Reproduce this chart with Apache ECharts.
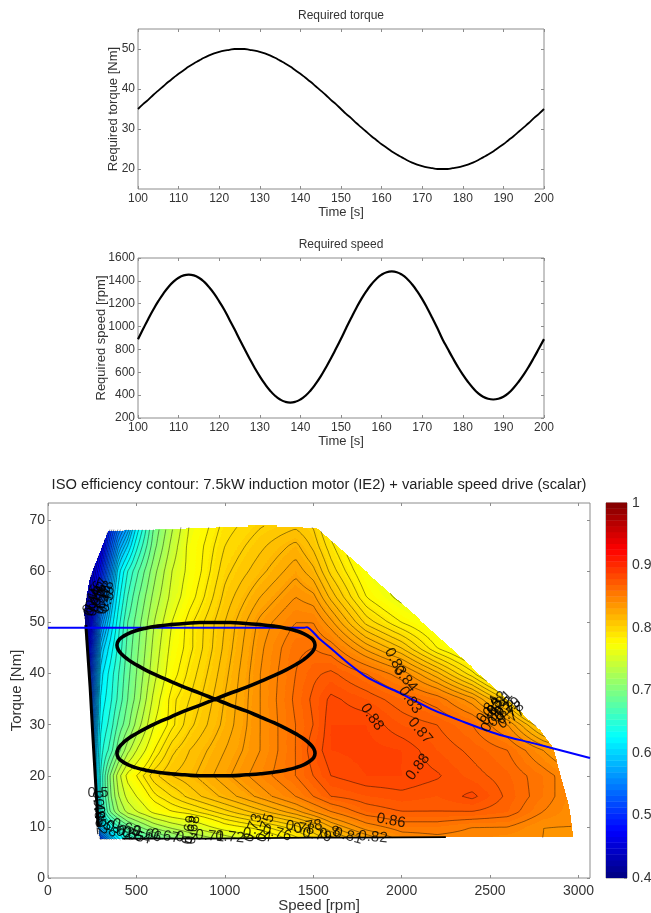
<!DOCTYPE html>
<html><head><meta charset="utf-8">
<style>html,body{margin:0;padding:0;background:#fff}#c{width:651px;height:913px}</style>
<script src="https://cdn.jsdelivr.net/npm/echarts@6/dist/echarts.min.js"></script>
</head><body><div id="c"></div>
<script>
var timeValues=[100,101.25,102.5,103.75,105,106.25,107.5,108.75,110,111.25,112.5,113.75,115,116.25,117.5,118.75,120,121.25,122.5,123.75,125,126.25,127.5,128.75,130,131.25,132.5,133.75,135,136.25,137.5,138.75,140,141.25,142.5,143.75,145,146.25,147.5,148.75,150,151.25,152.5,153.75,155,156.25,157.5,158.75,160,161.25,162.5,163.75,165,166.25,167.5,168.75,170,171.25,172.5,173.75,175,176.25,177.5,178.75,180,181.25,182.5,183.75,185,186.25,187.5,188.75,190,191.25,192.5,193.75,195,196.25,197.5,198.75,200];
var torqueValues=[35,36.2,37.3,38.5,39.6,40.7,41.8,42.8,43.8,44.7,45.6,46.4,47.1,47.8,48.4,48.9,49.3,49.6,49.8,50,50,50,49.8,49.6,49.3,48.9,48.4,47.8,47.1,46.4,45.6,44.7,43.8,42.8,41.8,40.7,39.6,38.5,37.3,36.2,35,33.8,32.7,31.5,30.4,29.3,28.2,27.2,26.2,25.3,24.4,23.6,22.9,22.2,21.6,21.1,20.7,20.4,20.2,20,20,20,20.2,20.4,20.7,21.1,21.6,22.2,22.9,23.6,24.4,25.3,26.2,27.2,28.2,29.3,30.4,31.5,32.7,33.8,35];
var speedValues=[890,978,1065,1147,1222,1289,1347,1393,1427,1448,1455,1448,1427,1393,1345,1288,1220,1147,1062,978,890,803,719,638,564,498,441,395,362,342,335,342,362,395,441,498,564,640,720,805,893,985,1075,1161,1240,1310,1370,1419,1454,1476,1483,1476,1454,1419,1370,1310,1240,1161,1075,985,890,808,727,650,580,517,463,418,386,368,362,368,386,418,463,517,580,650,727,808,890];
var loopSpeed=[945,1033,1120,1202,1277,1344,1402,1448,1482,1503,1510,1503,1482,1448,1402,1344,1277,1202,1120,1033,945,858,773,693,619,553,496,451,417,397,390,397,417,451,496,553,619,693,773,858,945,1033,1120,1202,1277,1344,1402,1448,1482,1503,1510,1503,1482,1448,1402,1344,1277,1202,1120,1033,945,858,773,693,619,553,496,451,417,397,390,397,417,451,496,553,619,693,773,858,945];
var limitSpeed=[0,1450,1465,1530,1612,1700,1804,1900,1991,2178,2370,2557,2743,3065];
var limitTorque=[49,49,49.1,47,44.6,42,39.3,37.6,36.2,32.9,30.3,28,26.4,23.5];
var wallSpeed=[214,238,255,284];
var wallTorque=[49.5,37.4,27,10];
var floorSpeed=[420,900,1500,1750,2250];
var floorTorque=[7.7,7.7,7.9,7.9,8];

var gridSpeeds=[200,250,300,350,400,450,500,600,700,800,1000,1200,1400,1500,1600,1800,2000,2200,2400,2600,2800,3000];
var gridTorques=[7,10,13,16,20,25,30,35,40,45,50,55,60,65,70];
var eff07=[.40,.42,.50,.56,.60,.63,.65,.67,.69,.71,.73,.76,.78,.79,.80,.82,.84,.845,.845,.84,.84,.83];
var eff10=[.42,.50,.59,.63,.66,.685,.70,.725,.74,.75,.775,.785,.80,.81,.825,.845,.855,.855,.85,.85,.84,.84];
var eff13=[.43,.53,.64,.69,.72,.74,.75,.77,.78,.785,.80,.815,.83,.84,.85,.865,.87,.87,.87,.865,.85,.84];
var eff16=[.44,.55,.65,.70,.735,.755,.765,.785,.795,.805,.82,.835,.85,.86,.87,.875,.878,.875,.882,.868,.855,.84];
var eff20=[.44,.55,.65,.705,.745,.77,.78,.80,.81,.815,.83,.845,.86,.87,.88,.885,.885,.881,.873,.866,.855,.84];
var eff25=[.44,.55,.64,.665,.70,.73,.75,.78,.80,.81,.825,.84,.86,.875,.885,.887,.885,.875,.868,.86,.84,.82];
var eff30=[.43,.54,.63,.65,.68,.70,.725,.765,.785,.80,.82,.84,.86,.87,.885,.885,.875,.87,.86,.84,.80,.78];
var eff35=[.43,.53,.62,.64,.665,.69,.71,.755,.785,.795,.818,.84,.862,.872,.882,.875,.865,.855,.835,.80,.74,.72];
var eff40=[.42,.52,.61,.635,.66,.685,.705,.745,.775,.79,.815,.84,.86,.868,.872,.86,.845,.82,.79,.75,.72,.70];
var eff45=[.42,.50,.59,.62,.65,.68,.70,.74,.77,.785,.812,.838,.858,.86,.855,.83,.81,.78,.76,.74,.72,.70];
var eff50=[.41,.48,.56,.60,.64,.675,.695,.735,.765,.785,.81,.835,.85,.85,.835,.80,.78,.765,.75,.73,.71,.70];
var eff55=[.41,.46,.52,.58,.625,.66,.685,.725,.755,.775,.805,.825,.84,.835,.815,.78,.76,.75,.74,.72,.70,.70];
var eff60=[.41,.44,.49,.55,.61,.645,.67,.715,.75,.77,.80,.815,.83,.82,.80,.77,.75,.74,.73,.72,.70,.70];
var eff65=[.40,.42,.46,.52,.57,.60,.64,.70,.74,.77,.795,.808,.82,.808,.79,.76,.75,.74,.73,.72,.70,.70];
var eff70=[.40,.41,.45,.49,.53,.56,.61,.69,.73,.765,.79,.80,.805,.80,.78,.755,.745,.74,.73,.72,.70,.70];
var effTable=[eff07,eff10,eff13,eff16,eff20,eff25,eff30,eff35,eff40,eff45,eff50,eff55,eff60,eff65,eff70];

var leftEdgeTorque=[7.4,10,27,37.4,49.5,52,58.3,68];
var leftEdgeSpeed=[294,284,255,238,209,205,233,340];
var rightEdgeTorque=[8,13.3,20.5,25.4,29,36.2,50.5,68.6];
var rightEdgeSpeed=[2970,2952,2896,2858,2783,2557,2105,1520];
var topEdgeSpeed=[340,1218,1520];
var topEdgeTorque=[68,69,68.6];
var bottomEdgeSpeed=[294,1500,2970];
var bottomEdgeTorque=[7.5,7.9,8];

var contourLevels=[.41,.42,.43,.44,.45,.46,.47,.48,.49,.50,.51,.52,.53,.54,.55,.56,.57,.58,.59,.60,.615,.63,.645,.66,.675,.69,.705,.72,.735,.75,.765,.78,.7875,.795,.8025,.81,.8175,.825,.8325,.84,.85,.86,.87,.88];

var contourLabels=[
[1832,31.5,'0.88',-55],[2104,28.8,'0.87',-50],[2092,21.7,'0.88',52],[2047,34.8,'0.83',-55],[2020,39,'0.84',-50],[1963,42.3,'0.83',-62],
[1940,11.2,'0.86',-10],[1838,8,'0.82',-5],[1697,8.2,'0.81',-15],[1595,8.8,'0.8',10],[1521,8.4,'0.79',-10],[1425,9.8,'0.78',-10],[1470,10,'0.78',10],
[1295,8.8,'0.76',-15],[1182,8.4,'0.74',-10],[1160,9.8,'0.73',70],[1230,9.8,'0.75',70],[1029,8,'0.72',-5],[916,8.2,'0.71',-5],[820,9.4,'0.68',80],[800,9.4,'0.69',80],[780,7.8,'0.7',-10],
[662,8.2,'0.67',-10],[560,8.6,'0.66',-15],[464,8.5,'0.65',-15],[500,8.2,'0.64',-15],[407,9.4,'0.62',-20],[440,9.8,'0.63',-20],[330,10.5,'0.58',-50],
[283,16.6,'0.5',0],[283,14.3,'0.48',-85],[288,12.7,'0.49',-85],[294,11.3,'0.52',-85],
[266,55.4,'0.46',70],[294,56,'0.47',70],[322,55.4,'0.48',70],[249,54.6,'0.45',70],[283,54.8,'0.46',70],[328,54.4,'0.49',70],[255,54,'0.44',70],[271,54,'0.45',70],[311,54.4,'0.47',70],[335,54,'0.5',70],
[2490,33,'0.84',55],[2510,32.5,'0.83',55],[2530,34,'0.82',50],[2555,34.2,'0.81',45],[2580,33.5,'0.8',45],[2600,33,'0.79',40],[2615,32.3,'0.78',35],[2560,32,'0.82',45],[2510,31.2,'0.85',60],[2620,31.4,'0.77',35]
];

var timeTicks=[100,110,120,130,140,150,160,170,180,190,200];
var torqueTicks=[20,30,40,50];
var speedTicks=[200,400,600,800,1000,1200,1400,1600];
var mapSpeedTicks=[0,500,1000,1500,2000,2500,3000];
var mapTorqueTicks=[0,10,20,30,40,50,60,70];
var colorTicks=[0.4,0.5,0.6,0.7,0.8,0.9,1];
var colorLevels=[];
for(var q=0;q<64;q++)colorLevels.push(q);

var FONT='Liberation Sans';
function clamp01(v){return v<0?0:v>1?1:v;}
function jet(f){
  var r=clamp01(Math.min(4*f-1.5,-4*f+4.5)),g=clamp01(Math.min(4*f-0.5,-4*f+3.5)),b=clamp01(Math.min(4*f+0.5,-4*f+2.5));
  return 'rgb('+Math.round(r*255)+','+Math.round(g*255)+','+Math.round(b*255)+')';
}
function interp(xs,ys,x){
  if(x<=xs[0])return ys[0];
  for(var i=1;i<xs.length;i++){if(x<=xs[i])return ys[i-1]+(ys[i]-ys[i-1])*(x-xs[i-1])/(xs[i]-xs[i-1]);}
  return ys[ys.length-1];
}
function seg(a,v){
  var i=0;while(i<a.length-2&&v>a[i+1])i++;
  var f=(v-a[i])/(a[i+1]-a[i]);return [i,f<0?0:f>1?1:f];
}
function eff(s,t){
  var a=seg(gridSpeeds,s),b=seg(gridTorques,t),r0=effTable[b[0]],r1=effTable[b[0]+1];
  var v0=r0[a[0]]*(1-a[1])+r0[a[0]+1]*a[1],v1=r1[a[0]]*(1-a[1])+r1[a[0]+1]*a[1];
  return v0*(1-b[1])+v1*b[1];
}
function inside(s,t){
  return t>=interp(bottomEdgeSpeed,bottomEdgeTorque,s)&&t<=interp(topEdgeSpeed,topEdgeTorque,s)
   &&s>=interp(leftEdgeTorque,leftEdgeSpeed,t)&&s<=interp(rightEdgeTorque,rightEdgeSpeed,t);
}
function bandOf(v){return Math.floor(v*200);}
function bandFill(b){return jet(((b+0.5)/200-0.4)/0.6);}

function renderFill(params,api){
  var ch=[],dT=0.2,dS=6;
  function push(a,b,t,band){
    var p0=api.coord([a,t+dT]),p1=api.coord([b,t]);
    var x0=Math.round(p0[0]),x1=Math.round(p1[0]),y0=Math.round(p0[1]),y1=Math.round(p1[1]);
    if(x1>x0&&y1>y0)ch.push({type:'rect',shape:{x:x0,y:y0,width:x1-x0,height:y1-y0},style:{fill:bandFill(band)},silent:true});
  }
  for(var t=7.4;t<69.1;t+=dT){
    var tm=t+dT/2,x0=interp(leftEdgeTorque,leftEdgeSpeed,tm),x1=interp(rightEdgeTorque,rightEdgeSpeed,tm);
    var runStart=null,runBand=null,s=x0;
    while(s<x1){
      var se=Math.min(s+dS,x1),sm=(s+se)/2,bd=inside(sm,tm)?bandOf(eff(sm,tm)):null;
      if(bd!==runBand){
        if(runBand!==null)push(runStart,s,t,runBand);
        runStart=s;runBand=bd;
      }
      s=se;
    }
    if(runBand!==null)push(runStart,x1,t,runBand);
  }
  return {type:'group',children:ch};
}
function renderContours(params,api){
  var ch=[],dS=14,dT=0.45,nx=Math.ceil((3000-200)/dS),ny=Math.ceil((70-7)/dT),vals=[],i,j;
  for(j=0;j<=ny;j++){var r=[];for(i=0;i<=nx;i++)r.push(eff(200+i*dS,7+j*dT));vals.push(r);}
  function P(x,y){var c=api.coord([x,y]);return c[0].toFixed(1)+' '+c[1].toFixed(1);}
  contourLevels.forEach(function(lv){
    var d='';
    for(j=0;j<ny;j++)for(i=0;i<nx;i++){
      var a=vals[j][i],b=vals[j][i+1],c=vals[j+1][i+1],e=vals[j+1][i];
      var x=200+i*dS,y=7+j*dT,pts=[];
      if((a<lv)!==(b<lv))pts.push([x+dS*(lv-a)/(b-a),y]);
      if((b<lv)!==(c<lv))pts.push([x+dS,y+dT*(lv-b)/(c-b)]);
      if((e<lv)!==(c<lv))pts.push([x+dS*(lv-e)/(c-e),y+dT]);
      if((a<lv)!==(e<lv))pts.push([x,y+dT*(lv-a)/(e-a)]);
      for(var k=0;k+1<pts.length;k+=2){
        var m=[(pts[k][0]+pts[k+1][0])/2,(pts[k][1]+pts[k+1][1])/2];
        if(inside(m[0],m[1]))d+='M'+P(pts[k][0],pts[k][1])+'L'+P(pts[k+1][0],pts[k+1][1]);
      }
    }
    if(d)ch.push({type:'path',shape:{pathData:d},style:{fill:'none',stroke:'#000',lineWidth:0.7,opacity:0.6},silent:true});
  });
  return {type:'group',children:ch};
}
function renderBar(params,api){
  var n=api.value(0),a=api.coord([0,0.4+0.6*n/64]),b=api.coord([1,0.4+0.6*(n+1)/64]);
  return {type:'rect',shape:{x:a[0],y:b[1]-0.4,width:b[0]-a[0],height:a[1]-b[1]+0.4},style:{fill:jet((n+0.5)/64)}};
}
var AX='#8c8c8c';
var NOLINE={show:false,onZero:false};
function plain(v){return String(v);}
function xAx(g,min,max,ticks,name,fs,gap,margin,show){return {type:'value',gridIndex:g,min:min,max:max,position:'bottom',
  name:name,nameLocation:'middle',nameGap:gap,nameMoveOverlap:false,nameTextStyle:{fontFamily:FONT,fontSize:fs+1,color:'#333'},
  axisLine:NOLINE,splitLine:{show:false},
  axisTick:{show:show!==false,inside:true,length:3,customValues:ticks,lineStyle:{color:AX}},
  axisLabel:{show:show!==false,customValues:ticks,formatter:plain,margin:margin,fontFamily:FONT,fontSize:fs,color:'#333',hideOverlap:false}};}
function yAx(g,min,max,ticks,name,fs,gap,margin,pos){return {type:'value',gridIndex:g,min:min,max:max,position:pos||'left',
  name:name,nameLocation:'middle',nameGap:gap,nameMoveOverlap:false,nameRotate:90,nameTextStyle:{fontFamily:FONT,fontSize:fs+1,color:'#333'},
  axisLine:NOLINE,splitLine:{show:false},
  axisTick:{show:true,inside:true,length:3,customValues:ticks,lineStyle:{color:AX}},
  axisLabel:{show:true,customValues:ticks,formatter:plain,margin:margin,fontFamily:FONT,fontSize:fs,color:'#333',hideOverlap:false}};}
function mirrorX(g,min,max,ticks){return {type:'value',gridIndex:g,min:min,max:max,position:'top',axisLine:NOLINE,splitLine:{show:false},
  axisLabel:{show:false},axisTick:{show:true,inside:true,length:3,customValues:ticks,lineStyle:{color:AX}}};}
function mirrorY(g,min,max,ticks){return {type:'value',gridIndex:g,min:min,max:max,position:'right',axisLine:NOLINE,splitLine:{show:false},
  axisLabel:{show:false},axisTick:{show:true,inside:true,length:3,customValues:ticks,lineStyle:{color:AX}}};}
function pairs(a,b){return a.map(function(v,i){return [v,b[i]];});}
function gridBox(l,t,w,h){return {left:l,top:t,width:w,height:h,show:true,borderColor:AX,borderWidth:1,backgroundColor:'#fff',containLabel:false,outerBoundsMode:'none'};}

var chart=echarts.init(document.getElementById('c'),null,{renderer:'canvas'});
chart.setOption({
  animation:false,backgroundColor:'#fff',
  title:[
    {text:'Required torque',left:341,top:10,textAlign:'center',textStyle:{fontFamily:FONT,fontSize:12,fontWeight:'normal',color:'#333'},padding:0},
    {text:'Required speed',left:341,top:239,textAlign:'center',textStyle:{fontFamily:FONT,fontSize:12,fontWeight:'normal',color:'#333'},padding:0},
    {text:'ISO efficiency contour: 7.5kW induction motor (IE2) + variable speed drive (scalar)',left:319,top:477,textAlign:'center',textStyle:{fontFamily:FONT,fontSize:14.7,fontWeight:'normal',color:'#222'},padding:0}
  ],
  grid:[gridBox(138,29,406,160),gridBox(138,258,406,160),gridBox(48,503,542,375),gridBox(606,503,21,375)],
  xAxis:[
    xAx(0,100,200,timeTicks,'Time [s]',12,17,4),
    xAx(1,100,200,timeTicks,'Time [s]',12,17,4),
    xAx(2,0,3065,mapSpeedTicks,'Speed [rpm]',14,20,6),
    xAx(3,0,1,[],'',11,10,6,false),
    mirrorX(0,100,200,timeTicks),mirrorX(1,100,200,timeTicks),mirrorX(2,0,3065,mapSpeedTicks)
  ],
  yAxis:[
    yAx(0,15,55,torqueTicks,'Required torque [Nm]',12,18,3),
    yAx(1,200,1600,speedTicks,'Required speed [rpm]',12,30,3),
    yAx(2,0,73.4,mapTorqueTicks,'Torque [Nm]',14,24,3),
    yAx(3,0.4,1,colorTicks,'',14,10,5,'right'),
    mirrorY(0,15,55,torqueTicks),mirrorY(1,200,1600,speedTicks),mirrorY(2,0,73.4,mapTorqueTicks)
  ],
  series:[
    {type:'line',xAxisIndex:0,yAxisIndex:0,data:pairs(timeValues,torqueValues),smooth:true,showSymbol:false,lineStyle:{color:'#000',width:1.8}},
    {type:'line',xAxisIndex:1,yAxisIndex:1,data:pairs(timeValues,speedValues),smooth:true,showSymbol:false,lineStyle:{color:'#000',width:2.2}},
    {type:'custom',xAxisIndex:2,yAxisIndex:2,data:[[0,0]],renderItem:renderFill,silent:true,z:2,clip:true},
    {type:'custom',xAxisIndex:2,yAxisIndex:2,data:[[0,0]],renderItem:renderContours,silent:true,z:3,clip:true},
    {type:'line',xAxisIndex:2,yAxisIndex:2,data:pairs(wallSpeed,wallTorque),showSymbol:false,z:5,lineStyle:{color:'#000',width:3}},
    {type:'line',xAxisIndex:2,yAxisIndex:2,data:pairs(floorSpeed,floorTorque),showSymbol:false,z:5,lineStyle:{color:'#000',width:1.8}},
    {type:'line',xAxisIndex:2,yAxisIndex:2,data:pairs(limitSpeed,limitTorque),showSymbol:false,smooth:0.2,z:6,lineStyle:{color:'#0000ff',width:2}},
    {type:'line',xAxisIndex:2,yAxisIndex:2,data:pairs(loopSpeed,torqueValues),smooth:true,showSymbol:false,z:7,lineStyle:{color:'#000',width:3.6}},
    {type:'scatter',xAxisIndex:2,yAxisIndex:2,symbolSize:0,z:8,silent:true,
     data:contourLabels.map(function(l){return {value:[l[0],l[1]],label:{show:true,position:'inside',formatter:l[2],rotate:l[3],fontFamily:FONT,fontSize:15,color:'#000'}};})},
    {type:'custom',xAxisIndex:3,yAxisIndex:3,data:colorLevels.map(function(v){return [v];}),encode:{x:0},renderItem:renderBar,silent:true,z:2}
  ]
});
</script></body></html>
